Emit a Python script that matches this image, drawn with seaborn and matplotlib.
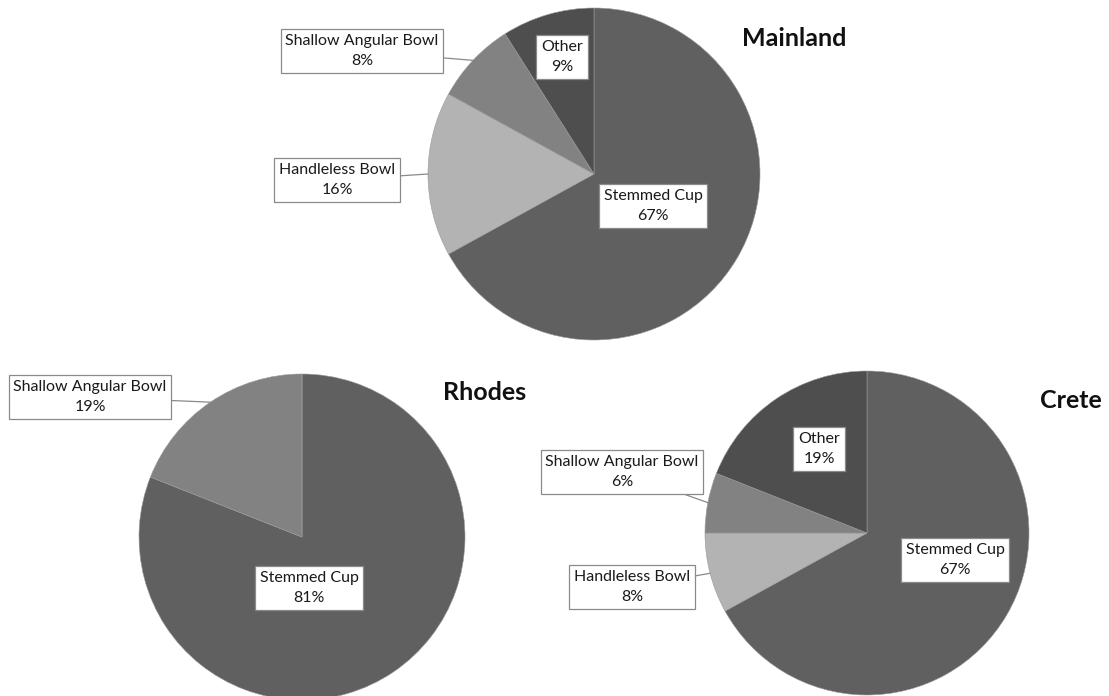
import numpy as np
import matplotlib
matplotlib.use("Agg")
import matplotlib.pyplot as plt
import seaborn as sns

sns.set_theme(style="white")
plt.rcParams['font.family'] = ['Lato', 'DejaVu Sans']

# ---- data ----
categories = ["Stemmed Cup", "Handleless Bowl", "Shallow Angular Bowl", "Other"]
mainland = [67, 16, 8, 9]
rhodes = [81, 0, 19, 0]
crete = [67, 8, 6, 19]
regions = ["Mainland", "Rhodes", "Crete"]

colors = {"Stemmed Cup": "#606060", "Handleless Bowl": "#b3b3b3",
          "Shallow Angular Bowl": "#828282", "Other": "#4e4e4e"}

W, H = 1109, 696
fig = plt.figure(figsize=(W / 100, H / 100), dpi=100)
ax = fig.add_axes([0, 0, 1, 1])

def Y(py):
    return H - py

# layout (pixel coords, y from top)
pies = {
    "Mainland": dict(vals=mainland, c=(594, 174), r=166, title=(794, 38),
                     labels={"Shallow Angular Bowl": (362, 51), "Other": (562, 57),
                             "Handleless Bowl": (337, 180), "Stemmed Cup": (653, 206)},
                     leaders={"Shallow Angular Bowl", "Handleless Bowl"}),
    "Rhodes": dict(vals=rhodes, c=(302, 537), r=163, title=(485, 393),
                   labels={"Shallow Angular Bowl": (90, 397), "Stemmed Cup": (309, 588)},
                   leaders={"Shallow Angular Bowl"}),
    "Crete": dict(vals=crete, c=(867, 533), r=162, title=(1071, 400),
                  labels={"Other": (819, 449), "Shallow Angular Bowl": (622, 472),
                          "Stemmed Cup": (955, 560), "Handleless Bowl": (632, 587)},
                  leaders={"Shallow Angular Bowl", "Handleless Bowl"}),
}

box = dict(boxstyle="square,pad=0.3", fc="white", ec="#8a8a8a", lw=0.9)
FS = 11.5

for name in regions:
    p = pies[name]
    vals = p["vals"]
    cx, cy = p["c"]
    r = p["r"]
    ax.pie(vals, colors=[colors[c] for c in categories], startangle=90,
           counterclock=False, center=(cx, Y(cy)), radius=r,
           wedgeprops=dict(edgecolor="#9a9a9a", linewidth=0.4))
    total = sum(vals)
    cum = np.cumsum([0] + list(vals))
    for i, cat in enumerate(categories):
        if vals[i] == 0:
            continue
        txt = f"{cat}\n{vals[i]}%"
        lx, ly = p["labels"][cat]
        if cat in p["leaders"]:
            mid = (cum[i] + cum[i + 1]) / 2 / total * 360.0
            ang = np.deg2rad(90 - mid)
            px = cx + r * np.cos(ang)
            py = Y(cy) + r * np.sin(ang)
            ax.annotate(txt, xy=(px, py), xytext=(lx, Y(ly)), ha="center", va="center",
                        fontsize=FS, color="#1a1a1a", bbox=box, linespacing=1.5,
                        arrowprops=dict(arrowstyle="-", color="#8a8a8a", lw=0.9,
                                        shrinkA=0, shrinkB=0))
        else:
            ax.text(lx, Y(ly), txt, ha="center", va="center", fontsize=FS,
                    color="#1a1a1a", bbox=box, linespacing=1.5)
    tx, ty = p["title"]
    ax.text(tx, Y(ty), name, ha="center", va="center", fontsize=18,
            fontweight="bold", color="#111111")

ax.set_xlim(0, W)
ax.set_ylim(0, H)
ax.set_aspect("equal")
ax.axis("off")
fig.savefig("out.png", dpi=100, facecolor="white")
